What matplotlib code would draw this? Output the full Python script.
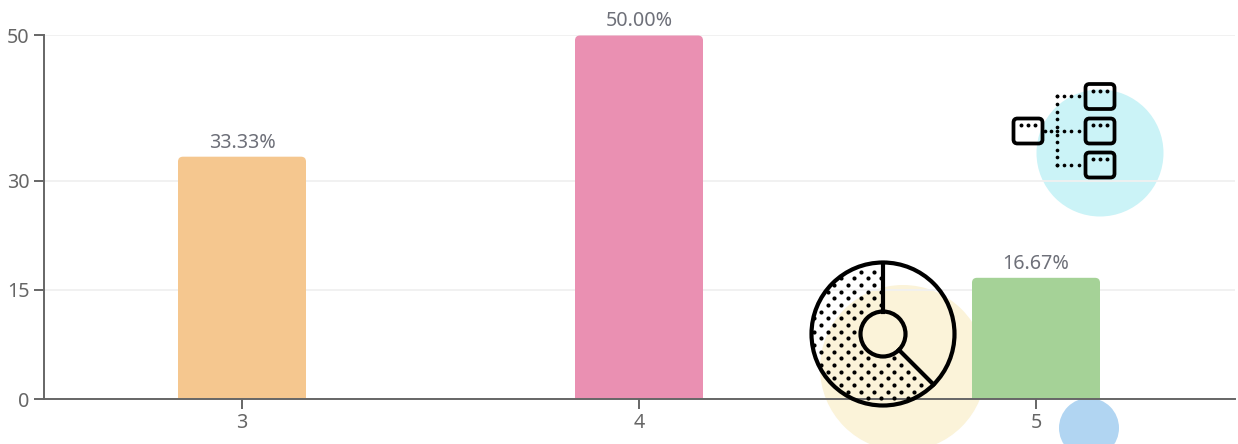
import numpy as np
import matplotlib
matplotlib.use('Agg')
import matplotlib.pyplot as plt
from matplotlib.patches import Circle, PathPatch, FancyBboxPatch
from matplotlib.path import Path

plt.rcParams['font.family'] = ['Noto Sans', 'DejaVu Sans']

categories = ['3', '4', '5']
shares = [33.33, 50.00, 16.67]
bar_colors = ['#F5C78F', '#EA90B2', '#A5D297']
y_ticks = [0, 15, 30, 50]

W, H = 1238, 444
LEFT, RIGHT, TOP, BOTTOM = 43.5, 1234.5, 35.5, 399
TEXT = '#6E7079'
AXIS = '#666666'
INK = '#000000'


def px_axes(fig, zorder):
    # whole figure axes working in pixels, y down
    a = fig.add_axes([0, 0, 1, 1], zorder=zorder)
    a.set_xlim(0, W)
    a.set_ylim(H, 0)
    a.axis('off')
    return a


def rounded_bar(ax, x, width, height, color, rx, ry):
    x0, x1 = x - width / 2, x + width / 2
    verts = [(x0, 0), (x0, height - ry), (x0, height), (x0 + rx, height),
             (x1 - rx, height), (x1, height), (x1, height - ry), (x1, 0), (x0, 0)]
    codes = [Path.MOVETO, Path.LINETO, Path.CURVE3, Path.CURVE3,
             Path.LINETO, Path.CURVE3, Path.CURVE3, Path.LINETO, Path.CLOSEPOLY]
    ax.add_patch(PathPatch(Path(verts, codes), facecolor=color, edgecolor='none', zorder=3))


def dots(a, xs, ys, size=7):
    a.scatter(xs, ys, s=size, color=INK, linewidths=0, zorder=5)


def box(a, cx, cy, w=27, h=23):
    a.add_patch(FancyBboxPatch((cx - w / 2 + 3, cy - h / 2 + 3), w - 6, h - 6,
                               boxstyle='round,pad=3,rounding_size=4',
                               facecolor='none', edgecolor=INK, linewidth=2.7, zorder=6))
    dots(a, [cx - 7.4, cx, cx + 7.4], [cy - 5.5] * 3, size=8)


fig = plt.figure(figsize=(W / 100, H / 100), dpi=100, facecolor='white')

# pale circles sit behind the chart
bg = px_axes(fig, 0)
bg.add_patch(Circle((903, 368), 83, facecolor='#FBF3D9', edgecolor='none'))
bg.add_patch(Circle((1089, 428), 30, facecolor='#B1D5F2', edgecolor='none'))
bg.add_patch(Circle((1100, 153), 63.5, facecolor='#CBF3F7', edgecolor='none'))

ax = fig.add_axes([LEFT / W, 1 - BOTTOM / H, (RIGHT - LEFT) / W, (BOTTOM - TOP) / H], zorder=1)
ax.patch.set_visible(False)
ax.set_xlim(-0.5, len(categories) - 0.5)
ax.set_ylim(0, 50)

x_pos = np.arange(len(categories))
bar_w = 128 / 397
rx, ry = 5 / 397, 5 / 7.27
for x, v, c in zip(x_pos, shares, bar_colors):
    rounded_bar(ax, x, bar_w, v, c, rx, ry)
    ax.annotate(f'{v:.2f}%', (x, v), xytext=(0, 3), textcoords='offset points',
                ha='center', va='bottom', color=TEXT, fontsize=14.2, zorder=4)

ax.set_xticks(x_pos, categories)
ax.set_yticks(y_ticks)
ax.grid(axis='y', color='#F0F0F0', linewidth=1.3, zorder=1)
ax.set_axisbelow(True)
for s in ['top', 'right']:
    ax.spines[s].set_visible(False)
for s in ['left', 'bottom']:
    ax.spines[s].set_color(AXIS)
    ax.spines[s].set_linewidth(1.4)
    ax.spines[s].set_zorder(4)
ax.tick_params(axis='both', length=7, width=1.4, color=AXIS, labelcolor=AXIS, labelsize=14.2, pad=3)

# line icons on top
top = px_axes(fig, 2)

# donut icon
cx, cy, r_out, r_in = 883, 334, 71.5, 22.5
gx, gy = np.meshgrid(np.arange(-12, 13) * 13.33 + 874.3, np.arange(-12, 30) * 6.67 + 271.7)
gx = gx + (np.arange(gx.shape[0])[:, None] % 2) * 6.67
dx, dy = (gx - cx).ravel(), (gy - cy).ravel()
rr = np.hypot(dx, dy)
ang = np.degrees(np.arctan2(-dy, dx)) % 360
keep = (rr > r_in + 3) & (rr < r_out - 1) & (ang > 92) & (ang < 312)
dots(top, dx[keep] + cx, dy[keep] + cy, size=9)
top.add_patch(Circle((cx, cy), r_out, facecolor='none', edgecolor=INK, linewidth=3, zorder=6))
top.add_patch(Circle((cx, cy), r_in, facecolor='none', edgecolor=INK, linewidth=3, zorder=6))
top.plot([cx, cx], [cy - r_in, cy - r_out], color=INK, linewidth=3, zorder=6)
c45 = np.cos(np.radians(45))
top.plot([cx + r_in * c45, cx + r_out * c45], [cy + r_in * c45, cy + r_out * c45],
         color=INK, linewidth=3, zorder=6)

# tree icon
right_ys = [96.5, 131, 165]
dots(top, [1056.7] * 10, np.linspace(96.5, 165, 10))
for y in right_ys:
    dots(top, np.arange(1056.7, 1084, 7.3), [y] * 4)
dots(top, [1045, 1050.5], [131, 131])
box(top, 1028, 131, w=29, h=25)
for y in right_ys:
    box(top, 1100, y, w=29, h=25)

fig.savefig('out.png', dpi=100)
